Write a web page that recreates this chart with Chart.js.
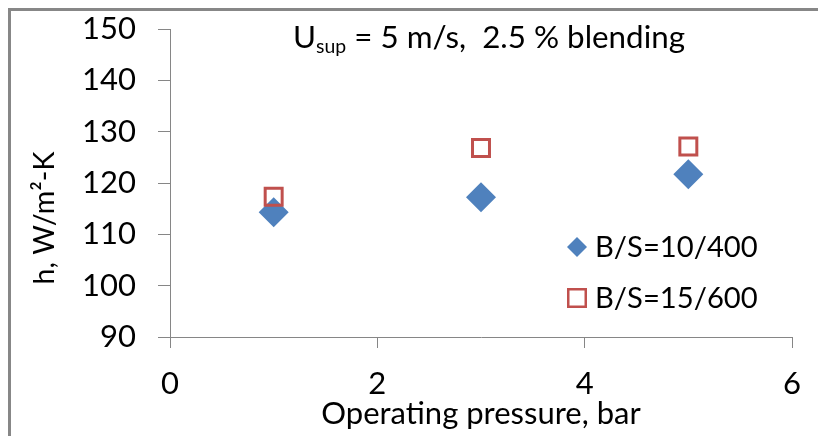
<!DOCTYPE html>
<html>
<head>
<meta charset="utf-8">
<script src="https://cdn.jsdelivr.net/npm/chart.js@4.4.0/dist/chart.umd.min.js"></script>
<style>
  html, body { margin: 0; padding: 0; background: #fff; overflow: hidden; }
</style>
</head>
<body>
<canvas id="chart" width="818" height="436"></canvas>
<script>
// data
const pressure = [1, 3, 5];
const hSmall = [114.3, 117.2, 121.7];   // B/S=10/400
const hLarge = [117.3, 126.8, 127.1];   // B/S=15/600
const seriesNames = ["B/S=10/400", "B/S=15/600"];
const xTicks = [0, 2, 4, 6];
const yTicks = [90, 100, 110, 120, 130, 140, 150];

const BLUE = "#4F81BD";
const RED = "#C0504D";
const AXIS = "#868686";
const FONT = "Lato, 'Open Sans', sans-serif";

// pick a font size so a string takes the width it has in the picture
const measureCtx = document.createElement("canvas").getContext("2d");
function fitSize(text, width) {
  measureCtx.font = "100px " + FONT;
  return Math.round(10 * 100 * width / measureCtx.measureText(text).width) / 10;
}
const tickSize = fitSize("150", 54);
const xTitleSize = fitSize("Operating pressure, bar", 320);
const legendSize = fitSize(seriesNames[0], 163);
const yTitleSize = fitSize("h, W/m²-K", 133);

// grey frame on top and left, like the cropped chart box
const framePlugin = {
  id: "frame",
  beforeDraw(chart) {
    const ctx = chart.ctx;
    ctx.save();
    ctx.fillStyle = "#878787";
    ctx.fillRect(8, 8, chart.width - 8, 3);
    ctx.fillRect(8, 8, 3, chart.height - 8);
    ctx.restore();
  }
};

// caption with subscript (U_sup) and the rotated y title
const captionPlugin = {
  id: "caption",
  afterDraw(chart) {
    const ctx = chart.ctx;
    const parts = [
      { t: "U", big: true, dy: 0 },
      { t: "sup", big: false, dy: 5 },
      { t: " = 5 m/s,  2.5 % blending", big: true, dy: 0 },
    ];
    // scale so the whole caption is ~392px wide
    ctx.save();
    let base = 100, total = 0;
    parts.forEach(p => { ctx.font = (p.big ? base : base * 0.62) + "px " + FONT; total += ctx.measureText(p.t).width; });
    base = base * 392 / total;
    total = 0;
    parts.forEach(p => { p.f = (p.big ? base : base * 0.62) + "px " + FONT; ctx.font = p.f; p.w = ctx.measureText(p.t).width; total += p.w; });
    let x = 489 - total / 2;
    ctx.fillStyle = "#000";
    ctx.textBaseline = "alphabetic";
    parts.forEach(p => { ctx.font = p.f; ctx.fillText(p.t, x, 48 + p.dy); x += p.w; });

    ctx.translate(45, 218);
    ctx.rotate(-Math.PI / 2);
    ctx.font = yTitleSize + "px " + FONT;
    ctx.textAlign = "center";
    ctx.textBaseline = "middle";
    ctx.fillText("h, W/m²-K", 0, 0);
    ctx.restore();
  }
};

// legend sitting inside the plot
const insideLegend = {
  id: "insideLegend",
  afterDraw(chart) {
    const ctx = chart.ctx;
    const rows = [247, 298];
    ctx.save();
    ctx.font = legendSize + "px " + FONT;
    ctx.textBaseline = "middle";
    chart.data.datasets.forEach((ds, i) => {
      const cx = 577, cy = rows[i];
      if (ds.pointStyle === "rectRot") {
        ctx.fillStyle = BLUE;
        ctx.beginPath();
        ctx.moveTo(cx, cy - 10); ctx.lineTo(cx + 10, cy); ctx.lineTo(cx, cy + 10); ctx.lineTo(cx - 10, cy);
        ctx.closePath(); ctx.fill();
      } else {
        ctx.strokeStyle = RED; ctx.lineWidth = 2.5;
        ctx.strokeRect(cx - 8.75, cy - 8.75, 17.5, 17.5);
      }
      ctx.fillStyle = "#000";
      ctx.fillText(ds.label, 595, cy + 1);
    });
    ctx.restore();
  }
};

new Chart(document.getElementById("chart"), {
  type: "scatter",
  data: {
    datasets: [
      {
        label: seriesNames[0],
        data: pressure.map((p, i) => ({ x: p, y: hSmall[i] })),
        pointStyle: "rectRot",
        pointRadius: 15,
        pointHoverRadius: 15,
        backgroundColor: BLUE,
        borderColor: BLUE,
        borderWidth: 0,
        order: 1,
      },
      {
        label: seriesNames[1],
        data: pressure.map((p, i) => ({ x: p, y: hLarge[i] })),
        pointStyle: "rect",
        pointRadius: 12,
        pointHoverRadius: 12,
        backgroundColor: "rgba(0,0,0,0)",
        borderColor: RED,
        borderWidth: 3,
        order: 0,
      },
    ],
  },
  options: {
    responsive: false,
    animation: false,
    layout: { padding: { left: 10, right: 26, top: 29, bottom: 0 } },
    plugins: {
      legend: { display: false },
      tooltip: { enabled: false },
    },
    scales: {
      x: {
        type: "linear",
        min: 0,
        max: 6,
        afterBuildTicks: s => { s.ticks = xTicks.map(v => ({ value: v })); },
        afterFit: s => { s.height = 99; s.paddingLeft = 0; s.paddingRight = 0; },
        grid: { drawOnChartArea: false, color: AXIS, tickLength: 11 },
        border: { color: AXIS, width: 1 },
        ticks: { color: "#000", font: { family: FONT, size: tickSize }, padding: 17, maxRotation: 0 },
        title: { display: true, text: "Operating pressure, bar", color: "#000",
                 font: { family: FONT, size: xTitleSize }, padding: { top: 0, bottom: 3 } },
      },
      y: {
        type: "linear",
        min: 90,
        max: 150,
        afterBuildTicks: s => { s.ticks = yTicks.map(v => ({ value: v })); },
        afterFit: s => { s.width = 160; s.paddingTop = 0; s.paddingBottom = 0; },
        grid: { drawOnChartArea: false, color: AXIS, tickLength: 12 },
        border: { color: AXIS, width: 1 },
        ticks: { color: "#000", font: { family: FONT, size: tickSize }, padding: 22 },
      },
    },
  },
  plugins: [framePlugin, captionPlugin, insideLegend],
});
</script>
</body>
</html>
